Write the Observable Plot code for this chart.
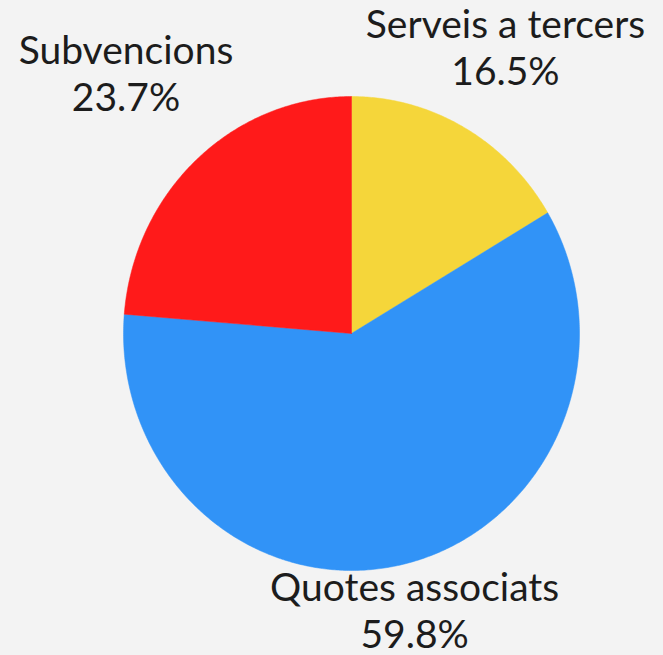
<!DOCTYPE html>
<html>
<head>
<meta charset="utf-8">
<script src="https://cdn.jsdelivr.net/npm/d3@7"></script>
<script src="https://cdn.jsdelivr.net/npm/@observablehq/plot@0.6"></script>
<style>
  html, body { margin: 0; padding: 0; background: #f3f3f3; }
  #chart svg { display: block; background: #f3f3f3; }
</style>
</head>
<body>
<div id="chart"></div>
<script>
// Data (clockwise from 12 o'clock)
const categories = ["Serveis a tercers", "Quotes associats", "Subvencions"];
const shares = [16.5, 59.8, 23.7];
const sliceColors = ["#f5d63a", "#3193f7", "#ff1a1a"];

// Build slice polygons from the data with d3.pie
const pie = d3.pie().sort(null).value(d => d.value);
const arcs = pie(categories.map((c, i) => ({ label: c, value: shares[i] })));

const pts = [];
for (const a of arcs) {
  const label = a.data.label;
  pts.push({ label, x: 0, y: 0 });
  const n = Math.max(2, Math.ceil((a.endAngle - a.startAngle) / (Math.PI / 360)));
  for (let k = 0; k <= n; k++) {
    const t = a.startAngle + (a.endAngle - a.startAngle) * k / n;
    pts.push({ label, x: Math.sin(t), y: Math.cos(t) });
  }
  pts.push({ label, x: 0, y: 0 });
}

// Label anchors at the rim, mid-angle
const labels = arcs.map(a => {
  const m = (a.startAngle + a.endAngle) / 2;
  return { label: a.data.label, text: `${a.data.label}\n${a.data.value.toFixed(1)}%`, x: Math.sin(m), y: Math.cos(m) };
});
const labelShift = {
  "Subvencions": [-71, -87],
  "Serveis a tercers": [41, -81],
  "Quotes associats": [12, 45]
};

const chart = Plot.plot({
  width: 663,
  height: 655,
  margin: 0,
  style: { background: "#f3f3f3", fontFamily: "Lato, 'Open Sans', sans-serif" },
  x: { domain: [-1, 1], range: [123, 579], axis: null },
  y: { domain: [-1, 1], range: [570, 96], axis: null },
  color: { domain: categories, range: sliceColors },
  marks: [
    Plot.line(pts, { x: "x", y: "y", z: "label", fill: "label", stroke: "label", strokeWidth: 0.5, curve: "linear" }),
    ...labels.map(l => Plot.text([l], {
      x: "x", y: "y", text: "text",
      dx: labelShift[l.label][0], dy: labelShift[l.label][1],
      fontSize: 39, fontWeight: 400, lineHeight: 1.2, fill: "#1c1c1c",
      textAnchor: "middle", lineAnchor: "middle"
    }))
  ]
});
document.getElementById("chart").appendChild(chart);
</script>
</body>
</html>
